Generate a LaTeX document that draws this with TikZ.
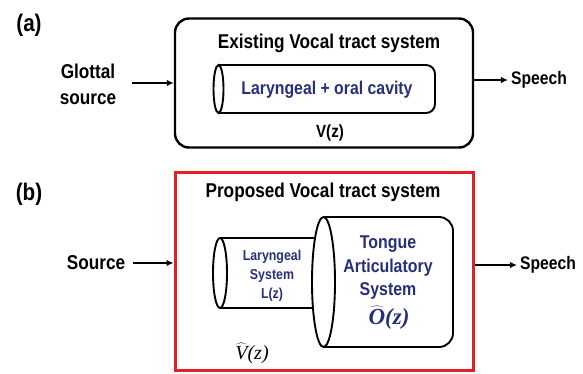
\documentclass[tikz,border=0pt]{standalone}
\usepackage{fontspec}
\setmainfont{Liberation Sans}[FakeStretch=0.86]
\newfontfamily\serifit{Liberation Serif}
\usetikzlibrary{arrows.meta}
\definecolor{navy}{RGB}{38,48,122}
\definecolor{boxred}{RGB}{228,32,38}
\newcommand{\ohatsym}{$\widehat{\hbox{\serifit\bfseries\itshape O}}$\hbox{\serifit\bfseries\itshape(z)}}
\newcommand{\vhatsym}{$\widehat{\hbox{\serifit\itshape V}}$\hbox{\serifit\itshape(z)}}
\tikzset{
  txt/.style={font=\bfseries\fontsize{#1}{#1}\selectfont, inner sep=0pt, align=center},
  mathtxt/.style={font=\fontsize{#1}{#1}\selectfont, inner sep=0pt},
  arr/.style={line width=1.8pt, -{Latex[length=7pt,width=6.5pt]}},
  cyl/.style={line width=1.9pt},
}
\begin{document}
\begin{tikzpicture}[x=1pt,y=-1pt]
\useasboundingbox (0,0) rectangle (583,373);
% ---------- (a) ----------
\node[txt=24] (laba) at (29,25) {(a)};
\node[draw, line width=2.4pt, rounded corners=14pt, minimum width=298pt, minimum height=129pt, inner sep=0pt] (boxa) at (324,83) {};
\node[txt=20] (titlea) at (329,43) {Existing Vocal tract system};
% cylinder (a)
\draw[cyl, rounded corners=9pt] (218.5,65) -- (435,65) -- (435,113) -- (218.5,113);
\draw[cyl, fill=white] (218.5,89) ellipse [x radius=5, y radius=24];
\node[txt=18.4, text=navy] (cyla) at (327,90) {Laryngeal + oral cavity};
\node[txt=17.6] (vz) at (330,133) {V(z)};
\node[txt=20, text depth=0pt, execute at begin node=\setlength{\baselineskip}{26pt}] (glottal) at (88,84) {Glottal\\source};
\node[txt=18.2] (speecha) at (539,80) {Speech};
\draw[arr] ([xshift=16pt]glottal.east |- boxa.west) -- (boxa.west);
\draw[arr] (boxa.east |- speecha) -- ([xshift=-3pt]speecha.west);
% ---------- (b) ----------
\node[txt=24] (labb) at (29,194) {(b)};
\node[draw=boxred, line width=3pt, minimum width=298pt, minimum height=198pt, inner sep=0pt] (boxb) at (324,271) {};
\node[txt=20] (titleb) at (323,192) {Proposed Vocal tract system};
% small cylinder
\draw[cyl] (220,238) -- (325,238);
\draw[cyl] (220,308) -- (325,308);
\draw[cyl, fill=white] (220,273) ellipse [x radius=7, y radius=35];
% big cylinder
\filldraw[cyl, fill=white, rounded corners=14pt] (323.5,217) -- (453,217) -- (453,347) -- (323.5,347);
\draw[cyl, fill=white] (323.5,282) ellipse [x radius=11.5, y radius=65];
\node[txt=14.4, text=navy, execute at begin node=\setlength{\baselineskip}{19pt}] (laryn) at (272,276) {Laryngeal\\System\\L(z)};
\node[txt=18.5, text=navy, execute at begin node=\setlength{\baselineskip}{23.5pt}] (tongue) at (388,268) {Tongue\\Articulatory\\System};
\node[mathtxt=23, text=navy] (ohat) at (389,318) {\ohatsym};
\node[mathtxt=20] (vhat) at (252,353) {\vhatsym};
\node[txt=20] (source) at (96,263) {Source};
\node[txt=18.2] (speechb) at (548,265) {Speech};
\draw[arr] ([xshift=8pt]source.east) -- (source.east -| boxb.west);
\draw[arr] (boxb.east |- speechb) -- ([xshift=-3pt]speechb.west);
\end{tikzpicture}
\end{document}
